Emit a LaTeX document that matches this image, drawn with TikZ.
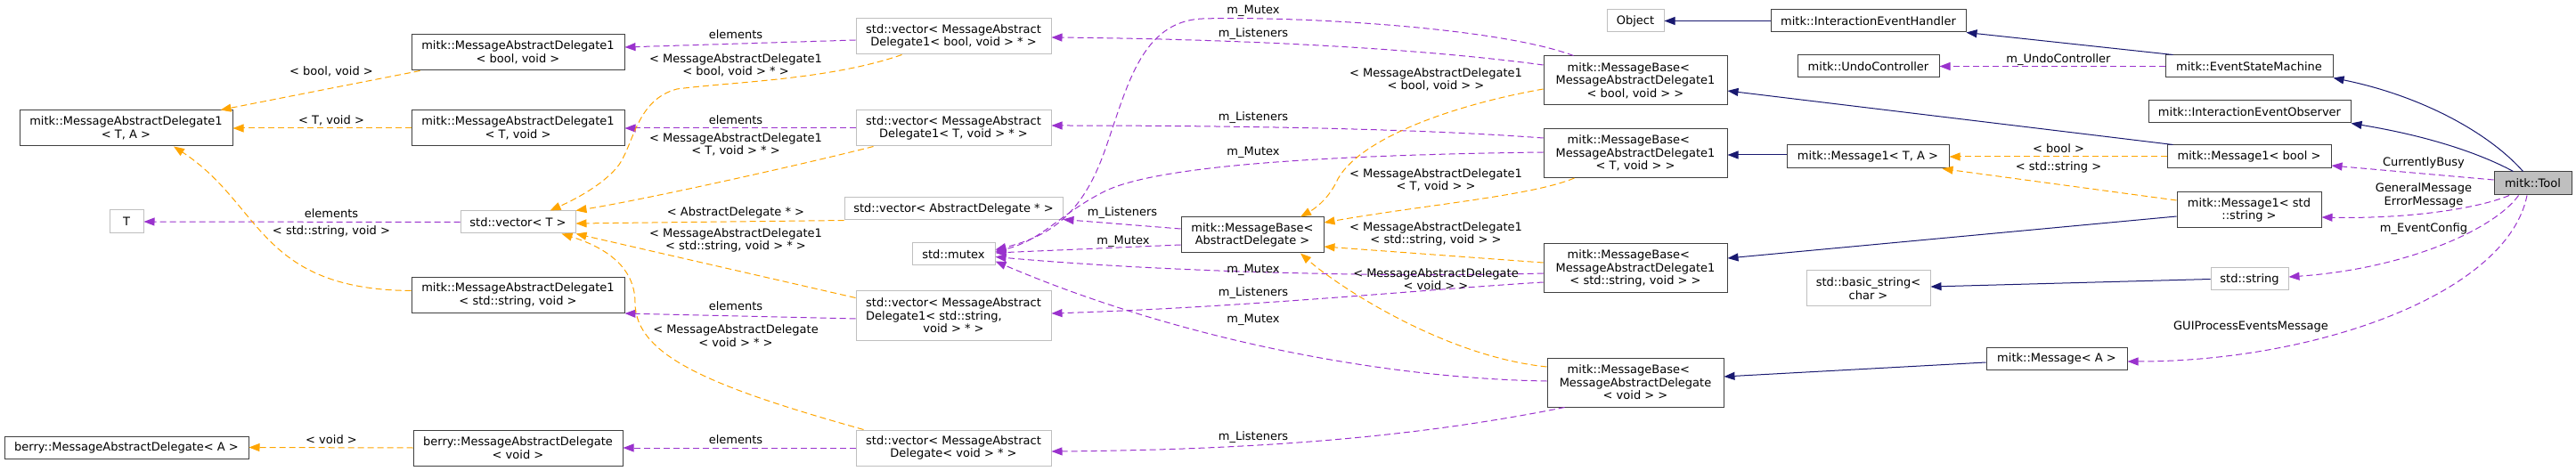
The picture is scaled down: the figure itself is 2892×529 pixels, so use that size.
\documentclass[tikz,border=0pt]{standalone}
\usepackage{fontspec}
\setmainfont{DejaVu Sans}
\usetikzlibrary{arrows.meta,calc}
\definecolor{navy}{HTML}{191970}
\definecolor{orch}{HTML}{9A32CD}
\definecolor{orng}{HTML}{FFA500}
\definecolor{dgrey}{HTML}{404040}
\definecolor{lgrey}{HTML}{BFBFBF}
\begin{document}
\begin{tikzpicture}[x=1pt,y=-1pt,
  every node/.style={font=\fontsize{13}{14.5}\selectfont, text=black},
  cls/.style={draw=dgrey, line width=1pt, inner sep=0pt, align=center, fill=white},
  ext/.style={draw=lgrey, line width=1pt, inner sep=0pt, align=center, fill=white},
  lbl/.style={inner sep=0pt, align=center},
  tipA/.style={-{Triangle[length=12pt,width=9pt]}},
  inh/.style={navy, line width=1pt, tipA},
  mem/.style={orch, line width=1pt, dash pattern=on 7pt off 4pt, tipA},
  tpl/.style={orng, line width=1pt, dash pattern=on 7pt off 4pt, tipA}
]
\useasboundingbox (0,0) rectangle (2892,529);

% ---------- nodes ----------
\node[cls, minimum width=239pt, minimum height=40pt] (madTA) at (141.5,144) {mitk::MessageAbstractDelegate1\\< T, A >};
\node[ext, minimum width=38pt, minimum height=26pt] (T) at (142,249) {T};
\node[cls, minimum width=274pt, minimum height=25pt] (berryA) at (142,502.5) {berry::MessageAbstractDelegate< A >};
\node[cls, minimum width=239pt, minimum height=40pt] (madBool) at (581.5,59) {mitk::MessageAbstractDelegate1\\< bool, void >};
\node[cls, minimum width=239pt, minimum height=40pt] (madT) at (581.5,144) {mitk::MessageAbstractDelegate1\\< T, void >};
\node[cls, minimum width=239pt, minimum height=40pt] (madStr) at (581.5,331.5) {mitk::MessageAbstractDelegate1\\< std::string, void >};
\node[cls, minimum width=235pt, minimum height=40pt] (berryVoid) at (581.5,503) {berry::MessageAbstractDelegate\\< void >};
\node[ext, minimum width=129pt, minimum height=25pt] (vecT) at (581.5,249.5) {std::vector< T >};
\node[ext, minimum width=219pt, minimum height=40pt] (vecBool) at (1070.5,41) {std::vector< MessageAbstract\\Delegate1< bool, void > * >};
\node[ext, minimum width=219pt, minimum height=40pt] (vecTv) at (1070.5,144) {std::vector< MessageAbstract\\Delegate1< T, void > * >};
\node[ext, minimum width=245pt, minimum height=25pt] (vecAD) at (1070.5,234.5) {std::vector< AbstractDelegate * >};
\node[ext, minimum width=93pt, minimum height=25pt] (mutex) at (1070.5,285.5) {std::mutex};
\node[ext, minimum width=219pt, minimum height=55pt] (vecStr) at (1070.5,354.5) {std::vector< MessageAbstract\\\rlap{Delegate1< std::string,}\phantom{std::vector< MessageAbstract}\\void > * >};
\node[ext, minimum width=219pt, minimum height=40pt] (vecVoid) at (1070.5,503) {std::vector< MessageAbstract\\Delegate< void > * >};
\node[cls, minimum width=160pt, minimum height=40pt] (mbAD) at (1406,264) {mitk::MessageBase<\\AbstractDelegate >};
\node[ext, minimum width=64pt, minimum height=25pt] (object) at (1836,23.5) {Object};
\node[cls, minimum width=206pt, minimum height=55pt] (mbBool) at (1836,90.5) {mitk::MessageBase<\phantom{xx}\\MessageAbstractDelegate1\\< bool, void > >};
\node[cls, minimum width=206pt, minimum height=55pt] (mbT) at (1836,172) {mitk::MessageBase<\phantom{xx}\\MessageAbstractDelegate1\\< T, void > >};
\node[cls, minimum width=206pt, minimum height=55pt] (mbStr) at (1836,301.5) {mitk::MessageBase<\phantom{xx}\\MessageAbstractDelegate1\\< std::string, void > >};
\node[cls, minimum width=198pt, minimum height=55pt] (mbVoid) at (1836,429.5) {mitk::MessageBase<\phantom{xx}\\MessageAbstractDelegate\\< void > >};
\node[cls, minimum width=219pt, minimum height=25pt] (ieh) at (2097.5,23.5) {mitk::InteractionEventHandler};
\node[cls, minimum width=159pt, minimum height=25pt] (undo) at (2097.5,74.5) {mitk::UndoController};
\node[cls, minimum width=182pt, minimum height=26pt] (m1TA) at (2097,176) {mitk::Message1< T, A >};
\node[ext, minimum width=139pt, minimum height=40pt] (basicStr) at (2097.5,324) {std::basic\_string<\\char >};
\node[cls, minimum width=158pt, minimum height=25pt] (msgA) at (2309,402.5) {mitk::Message< A >};
\node[cls, minimum width=188pt, minimum height=25pt] (esm) at (2525,74.5) {mitk::EventStateMachine};
\node[cls, minimum width=227pt, minimum height=25pt] (ieo) at (2525.5,125.5) {mitk::InteractionEventObserver};
\node[cls, minimum width=184pt, minimum height=26pt] (m1Bool) at (2525,176) {mitk::Message1< bool >};
\node[cls, minimum width=162pt, minimum height=40pt] (m1Str) at (2525,236) {mitk::Message1< std\\::string >};
\node[ext, minimum width=87pt, minimum height=25pt] (stdStr) at (2525.5,313.5) {std::string};
\node[cls, fill=lgrey, minimum width=87pt, minimum height=26pt] (tool) at (2843.5,206) {mitk::Tool};

% ---------- inheritance ----------
\draw[inh] (ieh.west) -- (object.east);
\draw[inh] ($(esm.north west)+(9,0)$) -- (ieh.south east);
\draw[inh] ($(tool.north)+(-11,0)$) .. controls (2795,150) and (2720,108) .. (esm.south east);
\draw[inh] ($(tool.north)+(-22,0)$) .. controls (2795,178) and (2740,155) .. (ieo.south east);
\draw[inh] ($(m1Bool.north west)+(7,0)$) -- ($(mbBool.east)+(0,11.5)$);
\draw[inh] ($(m1TA.west)+(0,-2)$) -- ($(mbT.east)+(0,2)$);
\draw[inh] ($(m1Str.west)+(0,7)$) -- ($(mbStr.east)+(0,-11.5)$);
\draw[inh] (stdStr.west) -- ($(basicStr.east)+(0,-2)$);
\draw[inh] ($(msgA.west)+(0,4.5)$) -- ($(mbVoid.east)+(0,-6.5)$);

% ---------- members ----------
\draw[mem] ($(tool.west)+(0,-4)$) -- ($(m1Bool.east)+(0,10)$);
\draw[mem] ($(tool.south)+(-26.5,0)$) .. controls (2780,235) and (2700,246) .. ($(m1Str.east)+(0,8)$);
\draw[mem] ($(tool.south)+(-16,0)$) .. controls (2800,258) and (2700,302) .. ($(stdStr.east)+(0,-2.5)$);
\draw[mem] ($(tool.south)+(-6.5,0)$) .. controls (2815,330) and (2600,406) .. ($(msgA.east)+(0,3.5)$);
\draw[mem] (esm.west) -- (undo.east);
\draw[mem] ($(mbBool.west)+(0,-17.5)$) .. controls (1600,55) and (1400,44) .. ($(vecBool.east)+(0,1)$);
\draw[mem] ($(mbBool.north west)+(34,0)$) .. controls (1680,30) and (1450,18) .. (1350,21) .. controls (1280,24) and (1265,100) .. (1240,170) .. controls (1215,240) and (1180,265) .. ($(mutex.east)+(0,-5)$);
\draw[mem] ($(mbT.west)+(0,-17)$) .. controls (1600,145) and (1400,141) .. ($(vecTv.east)+(0,-3)$);
\draw[mem] ($(mbT.west)+(0,-1)$) .. controls (1500,174) and (1300,185) .. (1240,215) .. controls (1190,240) and (1170,270) .. ($(mutex.east)+(0,-3)$);
\draw[mem] ($(mbAD.west)+(0,-7)$) -- ($(vecAD.east)+(0,12)$);
\draw[mem] ($(mbAD.west)+(0,11)$) -- ($(mutex.east)+(0,-1.5)$);
\draw[mem] ($(mbStr.west)+(0,5.5)$) .. controls (1550,312) and (1300,305) .. ($(mutex.east)+(0,3)$);
\draw[mem] ($(mbStr.west)+(0,15.5)$) .. controls (1600,325) and (1400,345) .. ($(vecStr.east)+(0,-2.5)$);
\draw[mem] ($(mbVoid.west)+(0,-1.5)$) .. controls (1550,425) and (1320,380) .. ($(mutex.east)+(0,8)$);
\draw[mem] ($(mbVoid.south west)+(20,0)$) .. controls (1620,485) and (1450,505) .. ($(vecVoid.east)+(0,4)$);
\draw[mem] ($(vecBool.west)+(0,4)$) -- ($(madBool.east)+(0,-6)$);
\draw[mem] (vecTv.west) -- (madT.east);
\draw[mem] ($(vecStr.west)+(0,3.5)$) -- (madStr.south east);
\draw[mem] (vecVoid.west) -- (berryVoid.east);
\draw[mem] (vecT.west) -- (T.east);

% ---------- template instances ----------
\draw[tpl] ($(madBool.south west)+(10,0)$) -- ($(madTA.north east)+(-14,0)$);
\draw[tpl] (madT.west) -- (madTA.east);
\draw[tpl] ($(madStr.west)+(0,-5)$) .. controls (290,325) and (295,230) .. ($(madTA.south)+(53.5,0)$);
\draw[tpl] (berryVoid.west) -- (berryA.east);
\draw[tpl] ($(vecBool.south west)+(52,0)$) .. controls (930,90) and (820,92) .. (760,100) .. controls (715,112) and (712,160) .. (695,185) .. controls (680,205) and (650,222) .. ($(vecT.north)+(36,0)$);
\draw[tpl] ($(vecTv.south west)+(20,0)$) .. controls (900,185) and (720,225) .. (vecT.north east);
\draw[tpl] (vecAD.south west) -- ($(vecT.east)+(0,1.5)$);
\draw[tpl] ($(vecStr.west)+(0,-20)$) -- (vecT.south east);
\draw[tpl] ($(vecVoid.north west)+(9,0)$) .. controls (800,435) and (713,400) .. (713,340) .. controls (713,300) and (680,278) .. ($(vecT.south east)+(-16,0)$);
\draw[tpl] ($(mbBool.west)+(0,9.5)$) .. controls (1620,120) and (1520,160) .. (1500,205) .. controls (1490,225) and (1475,235) .. ($(mbAD.north)+(54,0)$);
\draw[tpl] ($(mbT.south west)+(35,0)$) .. controls (1720,220) and (1600,230) .. ($(mbAD.east)+(0,-14)$);
\draw[tpl] ($(mbStr.west)+(0,-6.5)$) -- ($(mbAD.east)+(0,13)$);
\draw[tpl] ($(mbVoid.west)+(0,-17.5)$) .. controls (1620,400) and (1500,320) .. ($(mbAD.south)+(54,0)$);
\draw[tpl] (m1Bool.west) -- (m1TA.east);
\draw[tpl] ($(m1Str.west)+(0,-11)$) -- ($(m1TA.south east)+(-8,0)$);

% ---------- labels ----------
\node[lbl] (l1) at (372,80) {< bool, void >};
\node[lbl] (l2) at (372,135) {< T, void >};
\node[lbl] (l3) at (372,240) {elements};
\node[lbl] (l4) at (372,260) {< std::string, void >};
\node[lbl] (l5) at (372,494) {< void >};
\node[lbl] (l6) at (826,39) {elements};
\node[lbl] (l7) at (826,73.5) {< MessageAbstractDelegate1\\< bool, void > * >};
\node[lbl] (l8) at (826,135) {elements};
\node[lbl] (l9) at (826,162.5) {< MessageAbstractDelegate1\\< T, void > * >};
\node[lbl] (l10) at (826,239) {< AbstractDelegate * >};
\node[lbl] (l11) at (826,270) {< MessageAbstractDelegate1\\< std::string, void > * >};
\node[lbl] (l12) at (826,344) {elements};
\node[lbl] (l13) at (826,377) {< MessageAbstractDelegate\\< void > * >};
\node[lbl] (l14) at (826,494) {elements};
\node[lbl] (l15) at (1407,12) {m\_Mutex};
\node[lbl] (l16) at (1407,38) {m\_Listeners};
\node[lbl] (l17) at (1407,132) {m\_Listeners};
\node[lbl] (l18) at (1407,171) {m\_Mutex};
\node[lbl] (l19) at (1260,239) {m\_Listeners};
\node[lbl] (l20) at (1261,271) {m\_Mutex};
\node[lbl] (l21) at (1407,303) {m\_Mutex};
\node[lbl] (l22) at (1407,329) {m\_Listeners};
\node[lbl] (l23) at (1407,359) {m\_Mutex};
\node[lbl] (l24) at (1407,491) {m\_Listeners};
\node[lbl] (l25) at (1612,89.5) {< MessageAbstractDelegate1\\< bool, void > >};
\node[lbl] (l26) at (1612,202.5) {< MessageAbstractDelegate1\\< T, void > >};
\node[lbl] (l27) at (1612,263) {< MessageAbstractDelegate1\\< std::string, void > >};
\node[lbl] (l28) at (1612,313.5) {< MessageAbstractDelegate\\< void > >};
\node[lbl] (l29) at (2311,67) {m\_UndoController};
\node[lbl] (l30) at (2311,167) {< bool >};
\node[lbl] (l31) at (2311,188) {< std::string >};
\node[lbl] (l32) at (2721,183) {CurrentlyBusy};
\node[lbl] (l33) at (2721,219.5) {GeneralMessage\\ErrorMessage};
\node[lbl] (l34) at (2721,257) {m\_EventConfig};
\node[lbl] (l35) at (2527,367) {GUIProcessEventsMessage};
\end{tikzpicture}
\end{document}
